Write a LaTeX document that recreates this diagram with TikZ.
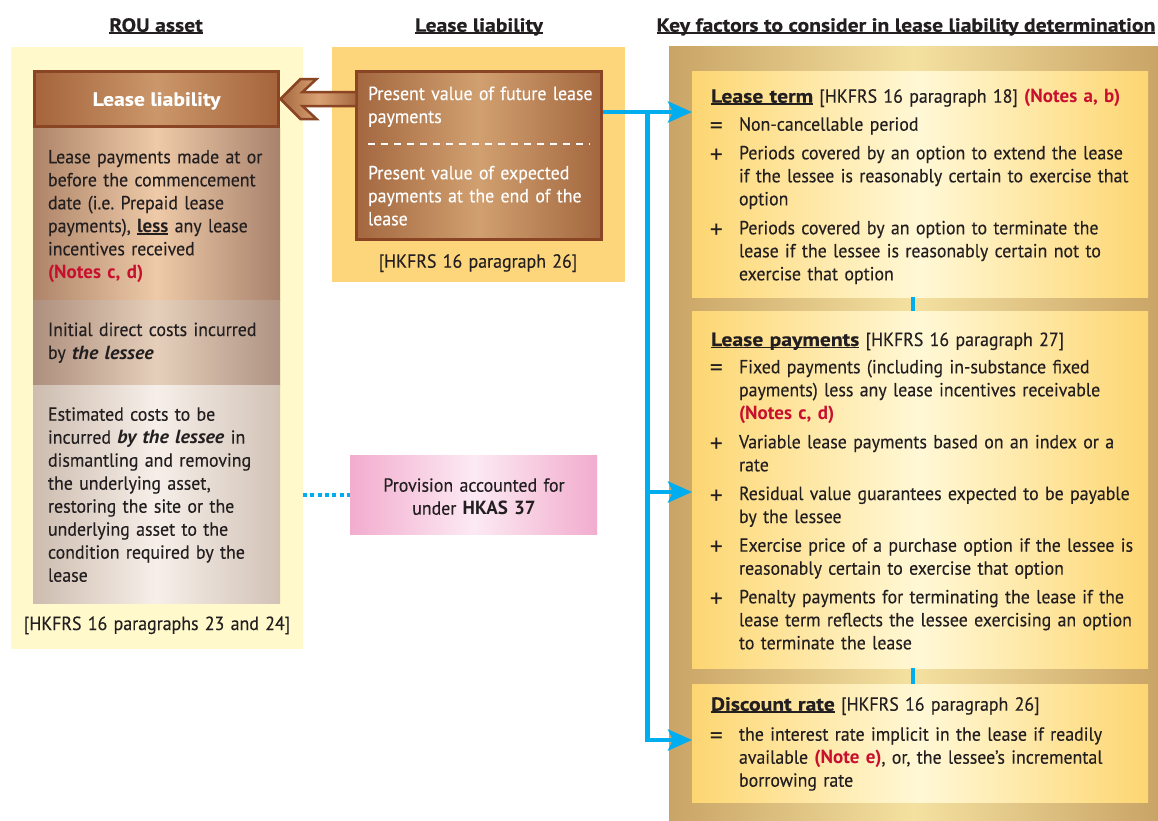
\documentclass[tikz,border=0pt]{standalone}
\usepackage{fontspec}
\setmainfont{PT Sans}[FakeStretch=0.94,
  UprightFeatures={FakeBold=0.2},
  BoldFeatures={FakeStretch=1.0},
  BoldItalicFeatures={FakeStretch=1.05}]
\newfontfamily\headfont{PT Sans}[BoldFeatures={FakeStretch=1.14,FakeBold=0.4}]
\newfontfamily\symfont{PT Sans}
\usetikzlibrary{calc,arrows.meta}
\frenchspacing

\definecolor{ink}{HTML}{231F20}
\definecolor{notered}{HTML}{C8102E}
\definecolor{flowblue}{HTML}{00AEEF}
\definecolor{rim}{HTML}{8A4524}
\definecolor{paleyellow}{HTML}{FFF9CC}
\definecolor{orangepanel}{HTML}{FDD67C}
% gradient stops
\definecolor{sAl}{HTML}{AE8468}\definecolor{sAm}{HTML}{EECAA8}\definecolor{sAr}{HTML}{A8826C}
\definecolor{sBl}{HTML}{AD8F7D}\definecolor{sBm}{HTML}{E5CFBA}\definecolor{sBr}{HTML}{AF9383}
\definecolor{sCl}{HTML}{CDBCAF}\definecolor{sCm}{HTML}{F6EFE9}\definecolor{sCr}{HTML}{D2C2B6}
\definecolor{brL}{HTML}{A5643C}\definecolor{brM}{HTML}{CB976A}
\definecolor{mbL}{HTML}{A3673F}\definecolor{mbM}{HTML}{D1A070}
\definecolor{arL}{HTML}{A5683F}\definecolor{arM}{HTML}{D9A274}
\definecolor{pkL}{HTML}{F2ACCE}\definecolor{pkM}{HTML}{FCEAF3}
\definecolor{gdL}{HTML}{C9A466}\definecolor{gdM}{HTML}{F4E1A0}
\definecolor{ylL}{HTML}{FDD672}\definecolor{ylM}{HTML}{FFF8D6}

% underline that sits close to the baseline
\newcommand\hdul[1]{\setbox0\hbox{#1}\rlap{\rule[-2.2pt]{\wd0}{1.6pt}}\box0\relax}
\newcommand\hd[1]{\hdul{\headfont\bfseries #1}}
\newcommand\note[1]{\textcolor{notered}{\textbf{#1}}}

\begin{document}
\begin{tikzpicture}[x=1pt,y=-1pt,
  every node/.style={inner sep=0pt,outer sep=0pt},
  area/.style={anchor=north west,draw=none},
  grad/.style n args={2}{left color=#1,right color=#1,middle color=#2},
  body/.style={anchor=base west,align=left,text width=#1,text=ink,
    font=\fontsize{19}{23}\selectfont},
  body/.default=430pt,
  cbody/.style={anchor=base,align=center,text width=#1,text=ink,
    font=\fontsize{19}{23}\selectfont},
  cbody/.default=300pt,
  eqsym/.style={anchor=base,text=ink,font=\fontsize{26}{23}\selectfont\symfont,yshift=-3.3pt},
  plussym/.style={anchor=base,text=ink,font=\fontsize{26}{23}\selectfont\symfont,yshift=-4pt},
  heading/.style={anchor=base,text=ink,font=\fontsize{19}{23}\selectfont},
  flow/.style={draw=flowblue,line width=4.5pt,
    -{Stealth[length=24pt,width=21pt,inset=5pt]}},
  flowbar/.style={draw=flowblue,line width=4.5pt},
]
\useasboundingbox (0,0) rectangle (1158,820);
\fill[white] (0,0) rectangle (1158,820);

% ---------- column headings ----------
\node[heading] (h1) at (156,31.7) {\hd{ROU asset}};
\node[heading] (h2) at (479,31.7) {\hd{Lease liability}};
\node[heading] (h3) at (906,31.7) {\hd{Key factors to consider in lease liability determination}};

% ---------- ROU asset column ----------
\node[area,fill=paleyellow,minimum width=292pt,minimum height=602pt] (rou) at (11,47) {};
\node[area,minimum width=247pt,minimum height=172pt,
  left color=sAl,right color=sAr,middle color=sAm] (s1) at (33,128) {};
\node[area,minimum width=247pt,minimum height=85pt,
  left color=sBl,right color=sBr,middle color=sBm] (s2) at (33,300) {};
\node[area,minimum width=247pt,minimum height=218pt,
  left color=sCl,right color=sCr,middle color=sCm] (s3) at (33,385) {};
\node[area,draw=rim,line width=3pt,minimum width=244pt,minimum height=55pt,
  grad={brL}{brM},text depth=0pt,
  text=white,font=\fontsize{19}{23}\selectfont\headfont\bfseries] (title) at (34.5,71.5) {Lease liability};

\node[body] (t1) at (48,163.3) {Lease payments made at or\\before the commencement\\date (i.e. Prepaid lease\\payments), \hdul{\textbf{less}} any lease\\incentives received\\\note{(Notes c, d)}};
\node[body] (t2) at (48,336) {Initial direct costs incurred\\by \textbf{\textit{the lessee}}};
\node[body] (t3) at (48,420.7) {Estimated costs to be\\incurred \textbf{\textit{by the lessee}} in\\dismantling and removing\\the underlying asset,\\restoring the site or the\\underlying asset to the\\condition required by the\\lease};
\node[cbody] (r1) at (157,630) {[HKFRS 16 paragraphs 23 and 24]};

% ---------- lease liability column ----------
\node[area,fill=orangepanel,minimum width=293pt,minimum height=235pt] (llp) at (332,47) {};
\node[area,draw=rim,line width=3pt,minimum width=244.5pt,minimum height=167.5pt,
  grad={mbL}{mbM}] (midbox) at (356.5,71.5) {};
\node[body,text=white] (m1) at (368,100) {Present value of future lease\\payments};
\draw[white,line width=2pt,dash pattern=on 7pt off 6pt]
  ($(midbox.north west)+(11.5,72.5)$) -- ($(midbox.north east)+(-11,72.5)$);
\node[body,text=white] (m2) at (368,179.3) {Present value of expected\\payments at the end of the\\lease};
\node[cbody] (r2) at (478,267.7) {[HKFRS 16 paragraph 26]};

% block arrow from the liability to the ROU asset
\coordinate (tipT) at ($(title.east)+(2,0)$);
\coordinate (shaftS) at (midbox.west |- tipT);
\path[draw=rim,line width=2.5pt,line join=miter,grad={arL}{arM}]
  (tipT) -- ($(tipT)+(20,-20)$) -- ($(tipT)+(36,-20)$) -- ($(tipT)+(22,-7)$)
  -- ($(shaftS)+(0,-7)$) -- ($(shaftS)+(0,7)$) -- ($(tipT)+(22,7)$)
  -- ($(tipT)+(36,20)$) -- ($(tipT)+(20,20)$) -- cycle;

% provision box
\node[area,minimum width=247pt,minimum height=79pt,grad={pkL}{pkM}] (prov) at (350,455) {};
\node[cbody] (pt) at (474,491.7) {Provision accounted for\\under \textbf{HKAS 37}};
\draw[draw=flowblue,line width=4pt,dash pattern=on 4pt off 3.3pt]
  (rou.east |- prov.west) -- (prov.west);

% ---------- key factors column ----------
\node[area,minimum width=489pt,minimum height=774pt,grad={gdL}{gdM}] (kf) at (669,46) {};
\node[area,minimum width=456pt,minimum height=226pt,grad={ylL}{ylM}] (term) at (692,71) {};
\node[area,minimum width=456pt,minimum height=357pt,grad={ylL}{ylM}] (pay) at (692,311) {};
\node[area,minimum width=456pt,minimum height=118pt,grad={ylL}{ylM}] (rate) at (692,684) {};

% lease term
\node[body] (k1) at (711,102.7) {\hd{Lease term} [HKFRS 16 paragraph 18] \note{(Notes a, b)}};
\node[eqsym] (k1a) at (716.5,130.7) {=};
\node[body] (k1at) at (739,130.7) {Non-cancellable period};
\node[plussym] (k1b) at (716.5,159.3) {+};
\node[body] (k1bt) at (739,159.3) {Periods covered by an option to extend the lease\\if the lessee is reasonably certain to exercise that\\option};
\node[plussym] (k1c) at (716.5,234.3) {+};
\node[body] (k1ct) at (739,234.3) {Periods covered by an option to terminate the\\lease if the lessee is reasonably certain not to\\exercise that option};

% lease payments
\node[body] (k2) at (711,346) {\hd{Lease payments} [HKFRS 16 paragraph 27]};
\node[eqsym] (k2a) at (716.5,373.3) {=};
\node[body] (k2at) at (739,373.3) {Fixed payments (including in-substance fixed\\payments) less any lease incentives receivable\\\note{(Notes c, d)}};
\node[plussym] (k2b) at (716.5,448.3) {+};
\node[body] (k2bt) at (739,448.3) {Variable lease payments based on an index or a\\rate};
\node[plussym] (k2c) at (716.5,500) {+};
\node[body] (k2ct) at (739,500) {Residual value guarantees expected to be payable\\by the lessee};
\node[plussym] (k2d) at (716.5,551.7) {+};
\node[body] (k2dt) at (739,551.7) {Exercise price of a purchase option if the lessee is\\reasonably certain to exercise that option};
\node[plussym] (k2e) at (716.5,603.3) {+};
\node[body] (k2et) at (739,603.3) {Penalty payments for terminating the lease if the\\lease term reflects the lessee exercising an option\\to terminate the lease};

% discount rate
\node[body] (k3) at (711,710.7) {\hd{Discount rate} [HKFRS 16 paragraph 26]};
\node[eqsym] (k3a) at (716.5,740.7) {=};
\node[body] (k3at) at (739,740.7) {the interest rate implicit in the lease if readily\\available \note{(Note e)}, or, the lessee’s incremental\\borrowing rate};

% ---------- connectors ----------
\coordinate (src) at ($(midbox.north east)+(1.5,40.5)$);
\coordinate (j) at ($(src)!0.5!(term.west |- src)$);
\coordinate (payin) at ($(pay.west)+(0,2.5)$);
\coordinate (ratein) at ($(rate.west)+(0,-3)$);
\draw[flow] (src) -- (term.west |- src);
\draw[flow] (j) |- (ratein);
\draw[flow] (j |- payin) -- (payin);
\draw[flowbar] ($(term.south)+(-7,0)$) -- ($(pay.north)+(-7,0)$);
\draw[flowbar] ($(pay.south)+(-7,0)$) -- ($(rate.north)+(-7,0)$);
\end{tikzpicture}
\end{document}
